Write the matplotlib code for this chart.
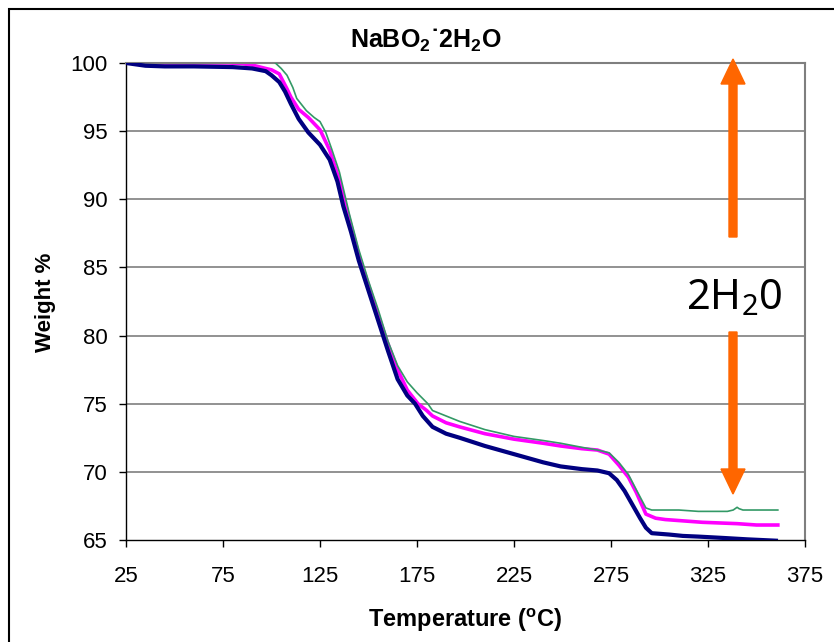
import matplotlib
matplotlib.use("Agg")
import matplotlib.pyplot as plt
from matplotlib.patches import FancyArrow, Rectangle

plt.rcParams['font.family'] = ['Liberation Sans', 'DejaVu Sans']
plt.rcParams['mathtext.fontset'] = 'custom'
plt.rcParams['mathtext.rm'] = 'Noto Sans'
plt.rcParams['mathtext.bf'] = 'Liberation Sans:bold'

# ---- data ----
navy_T = [25, 30, 35, 45, 60, 80, 90, 97, 100, 104, 107, 110, 114, 119, 125, 130, 134, 137,
          141, 145, 150, 155, 160, 165, 170, 174, 178, 183, 190, 197, 210, 225, 240, 249,
          260, 268, 274, 278, 282, 286, 290, 293, 296, 305, 312, 320, 333, 345, 360]
navy_W = [100.0, 99.9, 99.8, 99.75, 99.75, 99.7, 99.6, 99.4, 99.1, 98.6, 97.9, 97.0, 95.9,
          94.9, 94.0, 92.9, 91.3, 89.5, 87.6, 85.5, 83.3, 81.1, 78.9, 76.8, 75.6, 75.0,
          74.1, 73.3, 72.8, 72.5, 71.9, 71.3, 70.7, 70.4, 70.2, 70.1, 69.9, 69.4, 68.6,
          67.6, 66.6, 65.9, 65.5, 65.4, 65.3, 65.25, 65.15, 65.05, 64.95]

magenta_T = [25, 50, 70, 78, 85, 90, 97, 100, 104, 108, 110, 114, 119, 125, 130, 135, 140,
             145, 150, 155, 160, 165, 170, 175.5, 180, 183, 190, 197, 210, 225, 240, 249,
             260, 268, 274, 279, 284, 288, 293, 298, 303, 322, 340, 350, 361]
magenta_W = [100.0, 100.0, 100.0, 100.0, 99.95, 99.85, 99.6, 99.5, 99.2, 98.1, 97.5, 96.6,
             96.0, 95.1, 93.6, 91.4, 88.6, 85.9, 83.7, 81.5, 79.4, 77.5, 76.0, 75.0, 74.5,
             74.1, 73.6, 73.3, 72.8, 72.4, 72.1, 71.9, 71.7, 71.6, 71.3, 70.5, 69.6, 68.5,
             66.9, 66.6, 66.5, 66.3, 66.2, 66.1, 66.1]

green_T = [102, 105, 108, 111, 113, 118, 122, 125, 128, 131, 135, 140, 145, 150, 155, 160,
           165, 170, 175, 180.6, 183, 190, 197, 210, 225, 240, 249, 260, 268, 274, 279, 284,
           288, 293, 296, 310, 320, 335, 338, 340, 341, 343, 361]
green_W = [100.0, 99.6, 99.1, 98.2, 97.4, 96.5, 96.0, 95.7, 94.9, 93.7, 92.0, 89.0, 86.3,
           84.0, 81.9, 79.6, 77.8, 76.6, 75.8, 75.0, 74.5, 74.1, 73.7, 73.1, 72.6, 72.3,
           72.1, 71.8, 71.6, 71.4, 70.7, 69.8, 68.7, 67.35, 67.2, 67.2, 67.1, 67.1, 67.2,
           67.4, 67.3, 67.2, 67.2]

x_ticks = [25, 75, 125, 175, 225, 275, 325, 375]
y_ticks = [65, 70, 75, 80, 85, 90, 95, 100]

W, H = 834, 642
fig = plt.figure(figsize=(W / 100, H / 100), dpi=100)
ax = fig.add_axes([126 / W, 1 - 540 / H, (805 - 126) / W, (540 - 63) / H])

for y in y_ticks[1:]:
    ax.axhline(y, color='#7f7f7f', lw=1.2, zorder=0)

ax.plot(green_T, green_W, color='#339966', lw=1.2, zorder=3)
ax.plot(magenta_T, magenta_W, color='#FF00FF', lw=2.6, zorder=2)
ax.plot(navy_T, navy_W, color='#000080', lw=3.0, zorder=4)

ax.set_xlim(25, 375)
ax.set_ylim(65, 100)
ax.set_xticks(x_ticks)
ax.set_yticks(y_ticks)
ax.tick_params(axis='x', direction='out', length=5, width=1, pad=14, labelsize=16)
ax.tick_params(axis='y', direction='out', length=5, width=1, pad=8, labelsize=16)
for s in ['top', 'right']:
    ax.spines[s].set_color('#7f7f7f')
    ax.spines[s].set_linewidth(1.5)
for s in ['left', 'bottom']:
    ax.spines[s].set_color('black')
    ax.spines[s].set_linewidth(1.0)

fig.text(426 / W, 1 - 40 / H, r'NaBO$_\mathbf{2}$˙2H$_\mathbf{2}$O', ha='center', va='center',
         fontsize=18, fontweight='bold')
fig.text(465 / W, 1 - 620 / H, r'Temperature ($^\mathbf{o}$C)', ha='center', va='center',
         fontsize=17, fontweight='bold')
fig.text(45 / W, 1 - 302 / H, 'Weight %', ha='center', va='center', rotation=90,
         fontsize=16, fontweight='bold')

fig.text(734 / W, 1 - 298 / H, r'2H$_\mathrm{2}$0', ha='center', va='center',
         fontsize=30, family='Noto Sans')

orange = '#FF6600'
# up arrow
fig.patches.append(FancyArrow(733 / W, 1 - 237 / H, 0, (237 - 59) / H, width=8 / W,
                              head_width=24 / W, head_length=25 / H, length_includes_head=True,
                              color=orange, transform=fig.transFigure, figure=fig))
# down arrow
fig.patches.append(FancyArrow(733 / W, 1 - 332 / H, 0, -(494 - 332) / H, width=8 / W,
                              head_width=24 / W, head_length=25 / H, length_includes_head=True,
                              color=orange, transform=fig.transFigure, figure=fig))

# figure border
fig.patches.append(Rectangle((9 / W, -0.05), (834 - 9 + 20) / W, 1.05 - 9 / H, fill=False,
                             edgecolor='black', lw=1.5, transform=fig.transFigure, figure=fig))

fig.savefig('out.png', dpi=100)
